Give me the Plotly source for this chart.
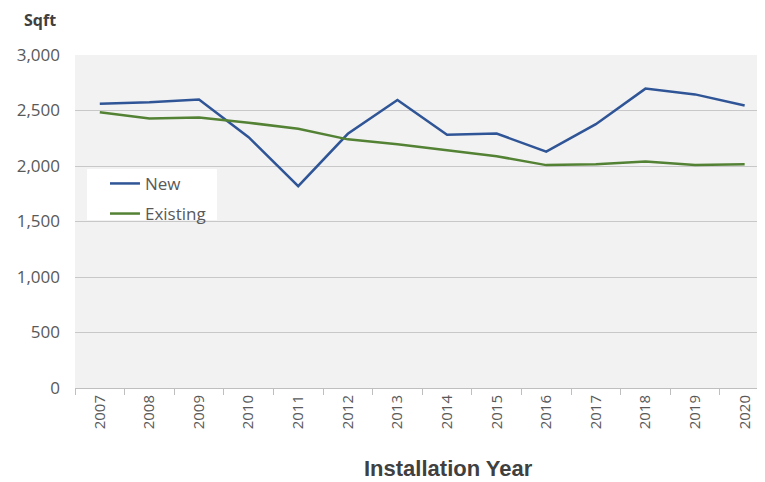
import plotly.graph_objects as go

years = ["2007", "2008", "2009", "2010", "2011", "2012", "2013",
         "2014", "2015", "2016", "2017", "2018", "2019", "2020"]
new_sqft = [2560, 2575, 2600, 2260, 1818, 2290, 2595,
            2281, 2292, 2130, 2377, 2697, 2645, 2545]
existing_sqft = [2485, 2428, 2437, 2390, 2335, 2240, 2195,
                 2143, 2088, 2008, 2016, 2040, 2008, 2016]
y_ticks = [0, 500, 1000, 1500, 2000, 2500, 3000]
y_tick_labels = ["0", "500", "1,000", "1,500", "2,000", "2,500", "3,000"]

fig = go.Figure()
fig.add_trace(go.Scatter(x=years, y=new_sqft, mode="lines", name="New",
                         legendgroup="a",
                         line=dict(color="#2F5597", width=2.5)))
fig.add_trace(go.Scatter(x=years, y=existing_sqft, mode="lines", name="Existing",
                         legendgroup="b",
                         line=dict(color="#548235", width=2.5)))

fig.update_layout(
    width=757, height=474,
    margin=dict(l=67, r=1, t=47, b=94),
    paper_bgcolor="white", plot_bgcolor="#F2F2F2",
    font=dict(family="Open Sans, Liberation Sans, sans-serif", color="#595959"),
    showlegend=True,
    legend=dict(x=0.0435, y=0.667, xanchor="left", yanchor="top",
                bgcolor="rgba(0,0,0,0)", font=dict(size=17, color="#595959"),
                tracegroupgap=5, itemwidth=30),
    xaxis=dict(type="category", tickson="boundaries", ticks="outside",
               ticklen=6, tickcolor="#BFBFBF", showline=True, linecolor="#BFBFBF",
               linewidth=1, showgrid=False, tickangle=-90,
               tickfont=dict(size=15, color="#595959"), range=[-0.5, 13.39]),
    yaxis=dict(range=[0, 3000], tickvals=y_ticks, ticktext=y_tick_labels,
               showgrid=True, gridcolor="#C8C8C8", gridwidth=1, zeroline=False,
               tickfont=dict(size=17, color="#595959"), ticks="", ticklabelstandoff=14),
)
# white legend box
fig.add_shape(type="rect", xref="paper", yref="paper",
              x0=(87 - 75) / 689, x1=(217 - 75) / 689,
              y0=(388 - 220) / 333, y1=(388 - 169) / 333,
              fillcolor="white", line=dict(width=0), layer="below")
fig.add_annotation(text="<b>Sqft</b>", xref="paper", yref="paper",
                   x=-0.077, y=1.105, xanchor="left", yanchor="middle",
                   showarrow=False, font=dict(size=16, color="#404040"))
fig.add_annotation(text="<b>Installation Year</b>", xref="paper", yref="paper",
                   x=(448 - 75) / 689, y=(388 - 468) / 333, xanchor="center", yanchor="middle",
                   showarrow=False,
                   font=dict(size=22, color="#404040", family="Liberation Sans, Arial, sans-serif"))

fig.write_html("out.html")
